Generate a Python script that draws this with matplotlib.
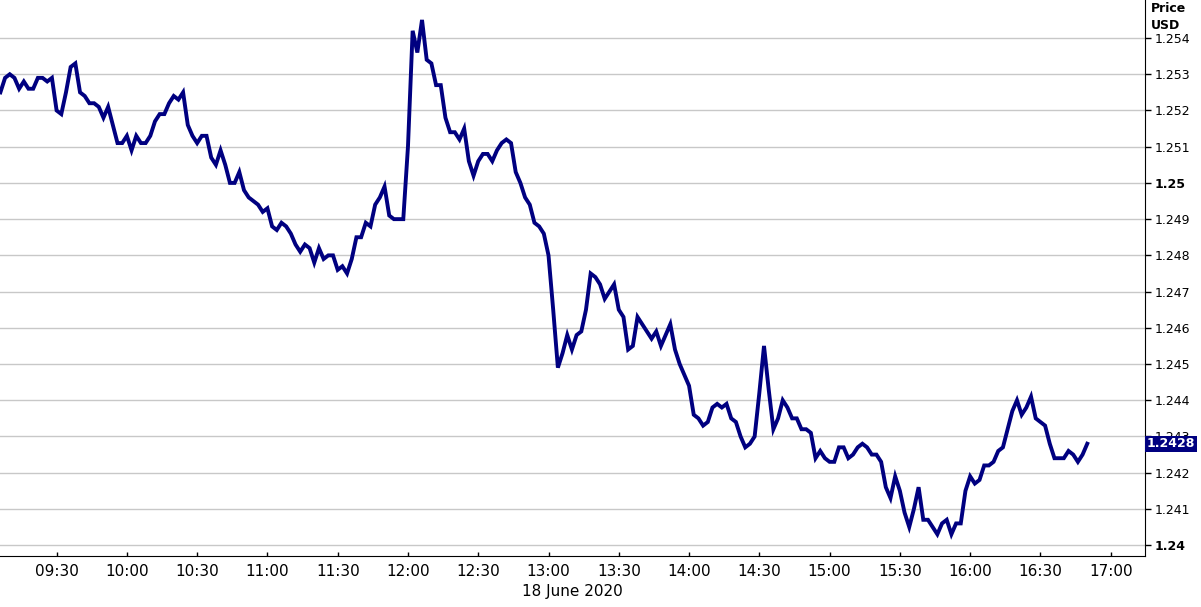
import numpy as np
import pandas as pd
import matplotlib
matplotlib.use("Agg")
import matplotlib.pyplot as plt
import matplotlib.dates as mdates
import matplotlib.transforms as mtransforms

# GBP/USD, 18 June 2020, read every 2 minutes starting 09:06
price = [
    1.2525, 1.2529, 1.2530, 1.2529, 1.2526, 1.2528, 1.2526, 1.2526, 1.2529, 1.2529,
    1.2528, 1.2529, 1.2520, 1.2519, 1.2525, 1.2532, 1.2533, 1.2525, 1.2524, 1.2522,
    1.2522, 1.2521, 1.2518, 1.2521, 1.2516, 1.2511, 1.2511, 1.2513, 1.2509, 1.2513,
    1.2511, 1.2511, 1.2513, 1.2517, 1.2519, 1.2519, 1.2522, 1.2524, 1.2523, 1.2525,
    1.2516, 1.2513, 1.2511, 1.2513, 1.2513, 1.2507, 1.2505, 1.2509, 1.2505, 1.2500,
    1.2500, 1.2503, 1.2498, 1.2496, 1.2495, 1.2494, 1.2492, 1.2493, 1.2488, 1.2487,
    1.2489, 1.2488, 1.2486, 1.2483, 1.2481, 1.2483, 1.2482, 1.2478, 1.2482, 1.2479,
    1.2480, 1.2480, 1.2476, 1.2477, 1.2475, 1.2479, 1.2485, 1.2485, 1.2489, 1.2488,
    1.2494, 1.2496, 1.2499, 1.2491, 1.2490, 1.2490, 1.2490, 1.2510, 1.2542, 1.2536,
    1.2545, 1.2534, 1.2533, 1.2527, 1.2527, 1.2518, 1.2514, 1.2514, 1.2512, 1.2515,
    1.2506, 1.2502, 1.2506, 1.2508, 1.2508, 1.2506, 1.2509, 1.2511, 1.2512, 1.2511,
    1.2503, 1.2500, 1.2496, 1.2494, 1.2489, 1.2488, 1.2486, 1.2480, 1.2465, 1.2449,
    1.2453, 1.2458, 1.2454, 1.2458, 1.2459, 1.2465, 1.2475, 1.2474, 1.2472, 1.2468,
    1.2470, 1.2472, 1.2465, 1.2463, 1.2454, 1.2455, 1.2463, 1.2461, 1.2459, 1.2457,
    1.2459, 1.2455, 1.2458, 1.2461, 1.2454, 1.2450, 1.2447, 1.2444, 1.2436, 1.2435,
    1.2433, 1.2434, 1.2438, 1.2439, 1.2438, 1.2439, 1.2435, 1.2434, 1.2430, 1.2427,
    1.2428, 1.2430, 1.2442, 1.2455, 1.2443, 1.2432, 1.2435, 1.2440, 1.2438, 1.2435,
    1.2435, 1.2432, 1.2432, 1.2431, 1.2424, 1.2426, 1.2424, 1.2423, 1.2423, 1.2427,
    1.2427, 1.2424, 1.2425, 1.2427, 1.2428, 1.2427, 1.2425, 1.2425, 1.2423, 1.2416,
    1.2413, 1.2419, 1.2415, 1.2409, 1.2405, 1.2410, 1.2416, 1.2407, 1.2407, 1.2405,
    1.2403, 1.2406, 1.2407, 1.2403, 1.2406, 1.2406, 1.2415, 1.2419, 1.2417, 1.2418,
    1.2422, 1.2422, 1.2423, 1.2426, 1.2427, 1.2432, 1.2437, 1.2440, 1.2436, 1.2438,
    1.2441, 1.2435, 1.2434, 1.2433, 1.2428, 1.2424, 1.2424, 1.2424, 1.2426, 1.2425,
    1.2423, 1.2425, 1.2428,
]
times = pd.date_range("2020-06-18 09:06", periods=len(price), freq="2min")
last_price = 1.2428

y_ticks = np.arange(1.240, 1.2545, 0.001)
navy = "#000080"

fig = plt.figure(figsize=(12.01, 6.07), dpi=100)
ax = fig.add_axes([0, 0.084, 0.9534, 0.916])

ax.plot(times, price, color=navy, lw=2.8, solid_joinstyle="miter")

ax.set_xlim(pd.Timestamp("2020-06-18 09:05:50"), pd.Timestamp("2020-06-18 17:14:40"))
ax.set_ylim(1.2397, 1.25505)

ax.xaxis.set_major_locator(mdates.MinuteLocator(byminute=[0, 30]))
ax.xaxis.set_major_formatter(mdates.DateFormatter("%H:%M"))
ax.tick_params(axis="x", direction="in", length=3, width=1, labelsize=11, pad=6)

ax.yaxis.tick_right()
ax.set_yticks(y_ticks)
ax.set_yticklabels([("%.3f" % v).rstrip("0") for v in y_ticks])
ax.tick_params(axis="y", direction="out", length=4, width=1, labelsize=9, pad=3)
for lab, v in zip(ax.get_yticklabels(), y_ticks):
    if round(v * 1000) % 10 == 0:
        lab.set_fontweight("bold")

ax.grid(axis="y", color="#c8c8c8", lw=1)
ax.set_axisbelow(True)
for s in ["left", "top"]:
    ax.spines[s].set_visible(False)
ax.spines["right"].set_color("black")
ax.spines["bottom"].set_color("black")

ax.set_xlabel("18 June 2020", fontsize=11, labelpad=3)

# last price marker on the axis (covers the 1.243 label, as in the source)
trans = mtransforms.blended_transform_factory(ax.transAxes, ax.transData)
ax.text(1.0015, last_price, "1.2428", transform=trans, ha="left", va="center",
        fontsize=9, fontweight="bold", color="white", zorder=5,
        bbox=dict(boxstyle="square,pad=0.12", fc=navy, ec="none"))

fig.text(0.958, 0.997, "Price\nUSD", ha="left", va="top", fontsize=9,
         fontweight="bold", linespacing=1.45)

fig.savefig("out.png", dpi=100)
